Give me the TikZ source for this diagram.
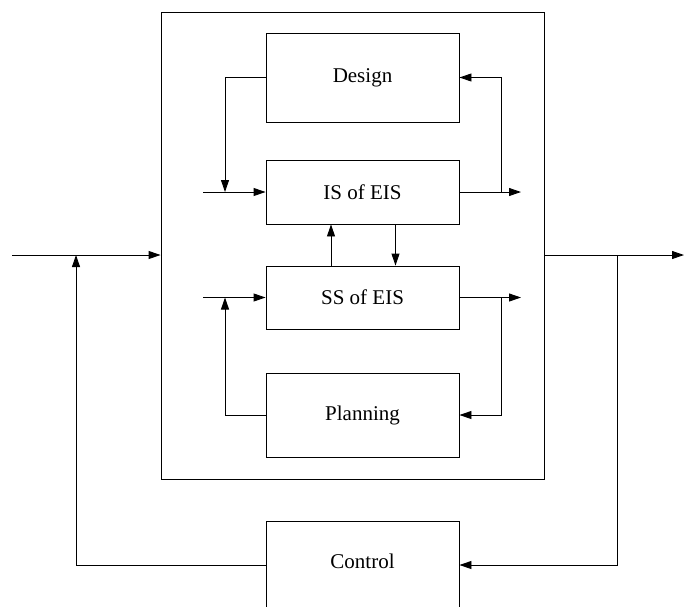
\documentclass[tikz,border=0pt]{standalone}
\usepackage{fontspec}
\setmainfont{Liberation Serif}
\usetikzlibrary{arrows.meta}
\begin{document}
\begin{tikzpicture}[x=1pt,y=1pt,
  box/.style={draw, line width=0.9pt, inner sep=0pt, font=\fontsize{21}{24}\selectfont},
  conn/.style={line width=0.9pt},
  arr/.style={conn, -{Triangle[length=12pt,width=8pt]}}]
\useasboundingbox (0,0) rectangle (684,-606);
\clip (0,0) rectangle (684,-606);
% boxes
\node[box, minimum width=383pt, minimum height=467pt] (outer) at (352.5,-245.5) {};
\node[box, minimum width=193pt, minimum height=89pt] (design) at (362.5,-77.5) {Design};
\node[box, minimum width=193pt, minimum height=64pt] (is) at (362.5,-192) {IS of EIS};
\node[box, minimum width=193pt, minimum height=63pt] (ss) at (362.5,-297.5) {SS of EIS};
\node[box, minimum width=193pt, minimum height=84pt] (planning) at (362.5,-415) {Planning};
\node[box, minimum width=193pt, minimum height=96pt, text height=15pt, text depth=16pt] (control) at (362.5,-569) {Control};
% coordinates
\coordinate (in) at (12,-255);
\coordinate (out) at (684,-255);
\coordinate (fbl) at (76,-255);
\coordinate (fbr) at (617,-255);
\coordinate (ctl) at (266,-565);
\coordinate (ctr) at (459,-565);
\coordinate (isin) at (203,-192);
\coordinate (dl) at (225,-192);
\coordinate (dr) at (501,-192);
\coordinate (isout) at (521,-192);
\coordinate (ssin) at (203,-297.5);
\coordinate (pl) at (225,-297.5);
\coordinate (pr) at (501,-297.5);
\coordinate (ssout) at (521,-297.5);
% main flow
\draw[arr] (in) -- (outer.west |- in);
\draw[arr] (outer.east |- out) -- (out);
\draw[arr] (control.west |- ctl) -| (fbl);
\draw[arr] (fbr) |- (control.east |- ctr);
% design loop
\draw[arr] (isin) -- (is.west);
\draw[arr] (design.west) -| (dl);
\draw[arr] (is.east) -- (isout);
\draw[arr] (dr) |- (design.east);
% between IS and SS
\draw[arr] ([xshift=-31.5pt]ss.north) -- ([xshift=-31.5pt]is.south);
\draw[arr] ([xshift=33pt]is.south) -- ([xshift=33pt]ss.north);
% planning loop
\draw[arr] (ssin) -- (ss.west);
\draw[arr] (planning.west) -| (pl);
\draw[arr] (ss.east) -- (ssout);
\draw[arr] (pr) |- (planning.east);
\end{tikzpicture}
\end{document}
